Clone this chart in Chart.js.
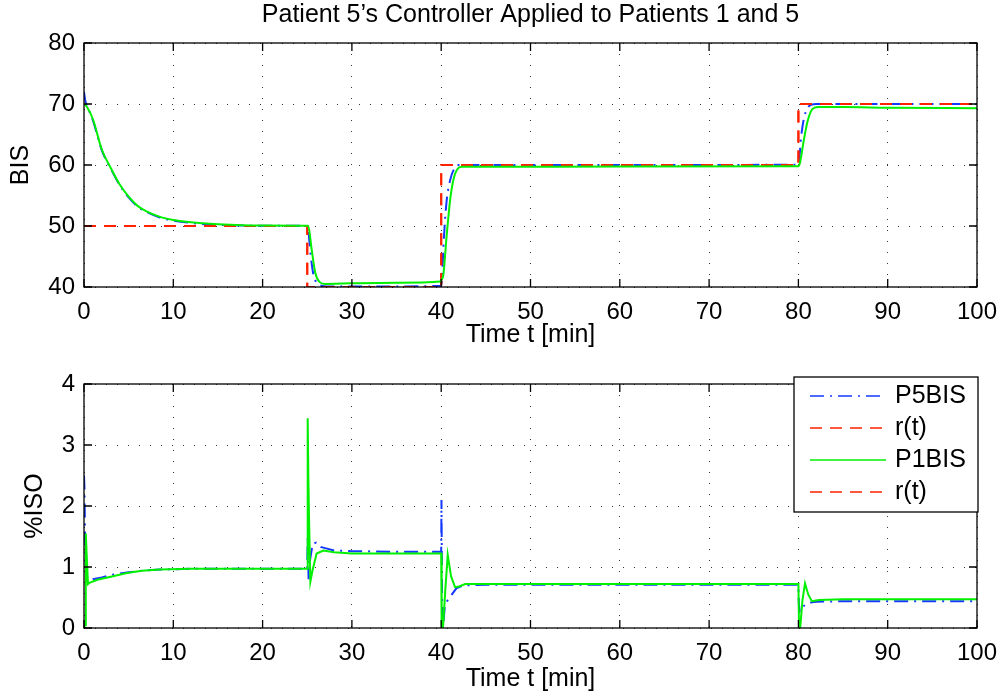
<!DOCTYPE html>
<html>
<head>
<meta charset="utf-8">
<script src="https://cdn.jsdelivr.net/npm/chart.js@4"></script>
<style>
  body { margin: 0; background: #fff; }
  canvas { display: block; }
</style>
</head>
<body>
<canvas id="chartBIS" width="1002" height="350"></canvas>
<canvas id="chartISO" width="1002" height="344"></canvas>
<script>
// reference r(t)
const refT   = [0, 25, 25, 40, 40, 80, 80, 100];
const refBIS = [50, 50, 40, 40, 60, 60, 70, 70];

// P5BIS (blue, dash-dot)
const p5T   = [0, 0.15, 0.4, 1, 2, 3, 4, 5, 6, 7, 8.5, 10, 12, 15, 20, 25, 25.1, 25.4, 25.7, 26.1, 26.6, 27.2, 30, 35, 40, 40.1, 40.3, 40.6, 41, 41.5, 42, 45, 60, 80, 80.1, 80.3, 80.6, 81, 81.5, 82, 85, 90, 100];
const p5BIS = [72, 70.5, 69.5, 67.3, 62.4, 59.4, 56.7, 54.7, 53.2, 52.3, 51.4, 50.9, 50.5, 50.2, 50.05, 50.0, 49.5, 45, 42, 40.6, 40.2, 40.1, 40.1, 40.1, 40.2, 42, 48, 54, 57.5, 59.5, 60, 60, 60, 60.05, 61, 64.5, 67.5, 69.3, 69.9, 70, 70, 70, 70];

// P1BIS (green, solid)
const p1T   = [0, 0.3, 1, 2, 3, 4, 5, 6, 7, 8.5, 10, 12, 15, 20, 25.1, 25.5, 25.9, 26.4, 27, 30, 35, 39.9, 40.05, 40.24, 40.6, 41, 41.4, 41.8, 42.3, 45, 60, 80, 80.2, 80.6, 81, 81.4, 81.8, 82.3, 85, 90, 100];
const p1BIS = [70, 69.6, 67.5, 62.5, 59.5, 56.8, 54.8, 53.3, 52.4, 51.5, 51.0, 50.6, 50.3, 50.1, 50.05, 46.1, 42.3, 40.8, 40.5, 40.6, 40.7, 40.9, 41.2, 42, 48.2, 54.3, 57.8, 59.3, 59.7, 59.7, 59.75, 59.8, 60.5, 64, 67, 68.8, 69.4, 69.5, 69.5, 69.4, 69.3];

// %ISO, patient 5 controller on patient 5 (blue)
const p5IsoT = [0, 0.05, 0.15, 0.3, 0.5, 1, 2, 3, 4.8, 6.5, 8.5, 12, 20, 25, 25.05, 25.15, 25.3, 25.6, 26, 26.5, 27, 28, 30, 35, 40, 40.03, 40.1, 40.2, 40.4, 40.7, 41.2, 41.7, 42.5, 45, 80, 80.05, 80.15, 80.35, 80.6, 81, 81.5, 82, 85, 100];
const p5Iso  = [2.5, 2.3, 1.2, 0.78, 0.76, 0.8, 0.83, 0.87, 0.91, 0.94, 0.96, 0.97, 0.97, 0.97, 1.5, 0.8, 1.1, 1.38, 1.4, 1.33, 1.31, 1.27, 1.26, 1.25, 1.25, 2.1, 0.5, 0, 0.35, 0.45, 0.55, 0.65, 0.7, 0.71, 0.71, 0.4, 0.27, 0.3, 0.36, 0.4, 0.42, 0.43, 0.44, 0.44];

// %ISO, patient 5 controller on patient 1 (green)
const p1IsoT = [0, 0.12, 0.2, 0.3, 0.45, 0.6, 1.5, 3, 4.8, 6.5, 8.5, 12, 20, 25, 25.05, 25.12, 25.2, 25.35, 25.6, 26.05, 26.8, 28, 30, 35, 40, 40.05, 40.2, 40.45, 40.73, 41.1, 41.55, 42, 42.7, 50, 80, 80.07, 80.2, 80.45, 80.74, 81.1, 81.5, 82.3, 85, 100];
const p1Iso  = [0, 0.05, 1.55, 1.2, 0.72, 0.74, 0.79, 0.84, 0.9, 0.94, 0.96, 0.97, 0.97, 0.97, 3.44, 2.5, 1.8, 0.76, 0.95, 1.22, 1.27, 1.24, 1.22, 1.22, 1.22, 0, 0, 0.6, 1.2, 0.85, 0.67, 0.68, 0.72, 0.72, 0.72, 0, 0, 0.45, 0.73, 0.55, 0.44, 0.46, 0.47, 0.47];

const legendNames = ['P5BIS', 'r(t)', 'P1BIS', 'r(t)'];
const xTicksMax = 100;

const BLUE = '#1438ff', RED = '#ff2200', GREEN = '#00f000';
const styles = {
  blue:  { borderColor: BLUE,  borderDash: [14, 6, 2, 6] },
  red:   { borderColor: RED,   borderDash: [12, 8] },
  green: { borderColor: GREEN, borderDash: [] }
};
const legendStyles = [styles.blue, styles.red, styles.green, styles.red];

function pts(t, y) { return t.map((v, i) => ({ x: v, y: y[i] })); }

function line(label, t, y, style, smooth) {
  return Object.assign({
    label, data: pts(t, y), borderWidth: 2, pointRadius: 0, fill: false,
    cubicInterpolationMode: smooth ? 'monotone' : 'default', tension: 0
  }, style);
}

const FONT = 'Liberation Sans, Arial, Helvetica, sans-serif';

// box around plot with inward tick marks (matlab look)
const boxPlugin = {
  id: 'box',
  afterDraw(chart) {
    const { ctx, chartArea: a, scales: { x, y } } = chart;
    ctx.save();
    ctx.strokeStyle = '#000';
    ctx.lineWidth = 1.3;
    ctx.setLineDash([]);
    ctx.strokeRect(a.left, a.top, a.right - a.left, a.bottom - a.top);
    ctx.beginPath();
    x.ticks.forEach(t => {
      const px = x.getPixelForValue(t.value);
      ctx.moveTo(px, a.bottom); ctx.lineTo(px, a.bottom - 8);
      ctx.moveTo(px, a.top); ctx.lineTo(px, a.top + 8);
    });
    y.ticks.forEach(t => {
      const py = y.getPixelForValue(t.value);
      ctx.moveTo(a.left, py); ctx.lineTo(a.left + 8, py);
      ctx.moveTo(a.right, py); ctx.lineTo(a.right - 8, py);
    });
    ctx.stroke();
    ctx.restore();
  }
};

const legendPlugin = {
  id: 'legendBox',
  afterDraw(chart) {
    const ctx = chart.ctx;
    const bx = 794, by = 27, bw = 184, bh = 135;
    ctx.save();
    ctx.fillStyle = '#fff';
    ctx.fillRect(bx, by, bw, bh);
    ctx.strokeStyle = '#000';
    ctx.lineWidth = 1.3;
    ctx.strokeRect(bx, by, bw, bh);
    ctx.font = '25px ' + FONT;
    ctx.textBaseline = 'middle';
    legendNames.forEach((name, i) => {
      const yy = by + 19 + i * 32;
      const s = legendStyles[i];
      ctx.strokeStyle = s.borderColor;
      ctx.lineWidth = 1.5;
      ctx.setLineDash(s.borderDash);
      ctx.beginPath();
      ctx.moveTo(810, yy); ctx.lineTo(886, yy);
      ctx.stroke();
      ctx.setLineDash([]);
      ctx.fillStyle = '#000';
      ctx.fillText(name, 895, yy);
    });
    ctx.restore();
  }
};

function axes(yMin, yMax, yStep, yTitle, yTitlePad, xHeight) {
  const gridCommon = { color: 'rgba(0,0,0,0.8)', lineWidth: 1, drawTicks: false };
  return {
    x: {
      type: 'linear', min: 0, max: xTicksMax,
      ticks: { stepSize: 10, padding: 11, color: '#000', font: { family: FONT, size: 24 } },
      grid: gridCommon,
      border: { display: false, dash: [1, 10] },
      title: { display: true, text: 'Time t [min]', color: '#000', font: { family: FONT, size: 25 }, padding: { top: 0, bottom: 0 } },
      afterFit(s) { s.height = xHeight; s.paddingLeft = 0; s.paddingRight = 0; }
    },
    y: {
      min: yMin, max: yMax,
      ticks: { stepSize: yStep, padding: 9, color: '#000', font: { family: FONT, size: 24 } },
      grid: gridCommon,
      border: { display: false, dash: [1, 10] },
      title: { display: true, text: yTitle, color: '#000', font: { family: FONT, size: 25 }, padding: { top: yTitlePad, bottom: 0 } },
      afterFit(s) { s.width = 84; s.paddingTop = 0; s.paddingBottom = 0; }
    }
  };
}

new Chart(document.getElementById('chartBIS'), {
  type: 'line',
  data: {
    datasets: [
      line('P1BIS', p1T, p1BIS, styles.green, true),
      line('r(t)', refT, refBIS, styles.red, false),
      line('r(t)', refT, refBIS, styles.red, false),
      line('P5BIS', p5T, p5BIS, styles.blue, true)
    ]
  },
  options: {
    responsive: false, animation: false, devicePixelRatio: 1,
    layout: { padding: { left: 0, right: 25, top: 0, bottom: 0 } },
    plugins: {
      legend: { display: false }, tooltip: { enabled: false },
      title: {
        display: true, fullSize: false,
        text: "Patient 5\u2019s Controller Applied to Patients 1 and 5",
        color: '#000', font: { family: FONT, size: 25, weight: 'normal' },
        padding: { top: 0, bottom: 13 }
      }
    },
    scales: axes(40, 80, 10, 'BIS', 6, 63)
  },
  plugins: [boxPlugin]
});

new Chart(document.getElementById('chartISO'), {
  type: 'line',
  data: {
    datasets: [
      line('P1BIS', p1IsoT, p1Iso, styles.green, false),
      line('P5BIS', p5IsoT, p5Iso, styles.blue, false)
    ]
  },
  options: {
    responsive: false, animation: false, devicePixelRatio: 1,
    layout: { padding: { left: 0, right: 25, top: 34, bottom: 0 } },
    plugins: { legend: { display: false }, tooltip: { enabled: false } },
    scales: axes(0, 4, 1, '%ISO', 20, 66)
  },
  plugins: [boxPlugin, legendPlugin]
});
</script>
</body>
</html>
